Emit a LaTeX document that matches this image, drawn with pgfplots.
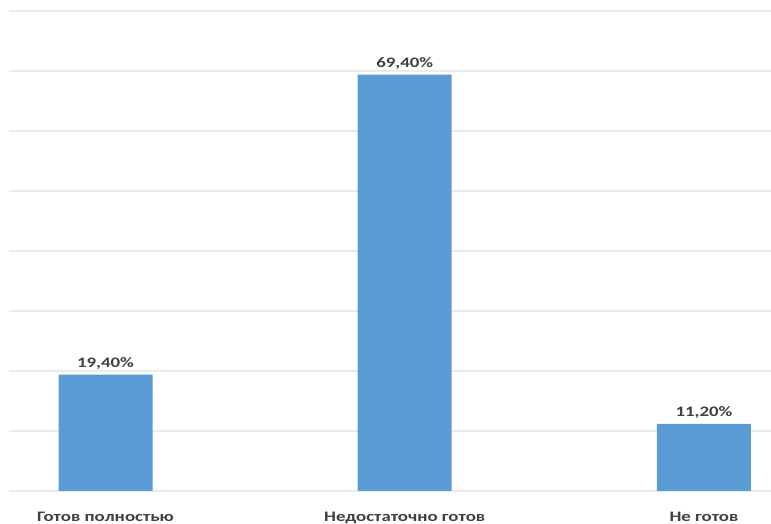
\documentclass[border=0pt]{standalone}
\usepackage{fontspec}
\usepackage{pgfplots}
\pgfplotsset{compat=1.18}
\newfontfamily\lblfont[FakeStretch=1.3]{Carlito}
\definecolor{barblue}{HTML}{5B9BD5}
\definecolor{txt}{HTML}{404040}
\definecolor{gridc}{HTML}{EBEBEB}
\begin{document}
\begin{tikzpicture}
\path[use as bounding box] (-9pt,-33pt) rectangle (762pt,491pt);
\begin{axis}[
  at={(0pt,0pt)}, anchor=south west,
  scale only axis, width=762pt, height=480pt,
  xmin=-0.3225, xmax=2.224,
  ymin=0, ymax=80,
  ytick={0,10,...,80}, yticklabels={},
  ymajorgrids, major grid style={draw=gridc, line width=1.2pt},
  axis line style={draw=none},
  tick style={draw=none},
  xtick={0,1,2},
  xticklabels={Готов полностью, Недостаточно готов, Не готов},
  xticklabel style={anchor=base, yshift=-29pt+3pt, font=\lblfont\bfseries\fontsize{14.5}{16}\selectfont, text=txt},
  ybar, bar width=94pt,
  nodes near coords={\pgfmathprintnumber[fixed,fixed zerofill,precision=2,use comma,assume math mode=true]{\pgfplotspointmeta}\%},
  every node near coord/.append style={anchor=base, yshift=7pt, font=\lblfont\bfseries\fontsize{14.5}{16}\selectfont, text=txt},
  clip=false,
]
\addplot[fill=barblue, draw=none] coordinates {(0,19.4) (1,69.4) (2,11.2)};
\end{axis}
\end{tikzpicture}
\end{document}
